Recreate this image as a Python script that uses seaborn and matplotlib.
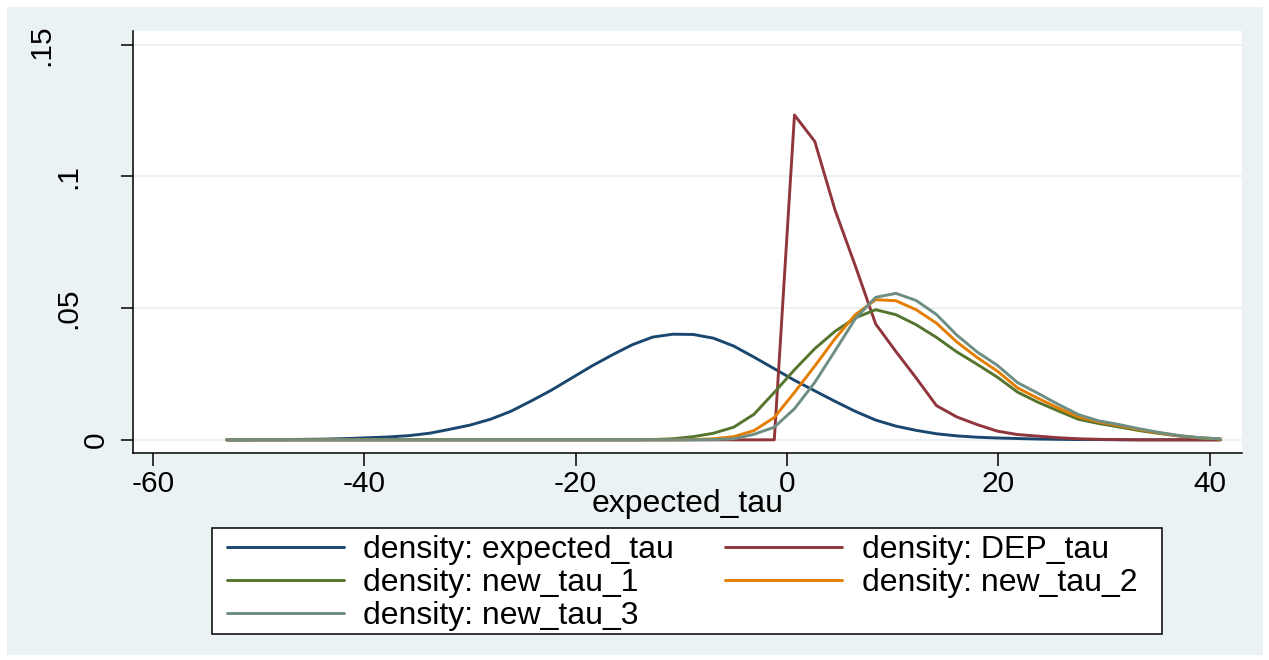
import matplotlib
matplotlib.use("Agg")
import matplotlib.pyplot as plt
import matplotlib.transforms as mtransforms
from matplotlib.patches import Rectangle
from matplotlib.lines import Line2D
import seaborn as sns
import pandas as pd

# ---------------- data ----------------
x_grid = [-53.00, -51.08, -49.16, -47.24, -45.33, -43.41, -41.49, -39.57, -37.65, -35.73,
          -33.82, -31.90, -29.98, -28.06, -26.14, -24.22, -22.31, -20.39, -18.47, -16.55,
          -14.63, -12.71, -10.80, -8.88, -6.96, -5.04, -3.12, -1.20, 0.71, 2.63,
          4.55, 6.47, 8.39, 10.31, 12.22, 14.14, 16.06, 17.98, 19.90, 21.82,
          23.73, 25.65, 27.57, 29.49, 31.41, 33.33, 35.24, 37.16, 39.08, 41.00]

expected_tau = [0.0000, 0.0000, 0.0001, 0.0001, 0.0002, 0.0003, 0.0005, 0.0008, 0.0011, 0.0016,
                0.0025, 0.0040, 0.0056, 0.0078, 0.0108, 0.0147, 0.0188, 0.0234, 0.0280, 0.0322,
                0.0361, 0.0390, 0.0401, 0.0400, 0.0386, 0.0356, 0.0314, 0.0270, 0.0226, 0.0186,
                0.0146, 0.0108, 0.0075, 0.0052, 0.0036, 0.0023, 0.0015, 0.0010, 0.0007, 0.0005,
                0.0003, 0.0002, 0.0001, 0.0001, 0.0000, 0.0000, 0.0000, 0.0000, 0.0000, 0.0000]

dep_tau = [0.0, 0.0, 0.0, 0.0, 0.0, 0.0, 0.0, 0.0, 0.0, 0.0,
           0.0, 0.0, 0.0, 0.0, 0.0, 0.0, 0.0, 0.0, 0.0, 0.0,
           0.0, 0.0, 0.0, 0.0, 0.0, 0.0, 0.0, 0.0, 0.1233, 0.1133,
           0.0872, 0.0660, 0.0440, 0.0335, 0.0235, 0.0130, 0.0087, 0.0058, 0.0033, 0.0020,
           0.0014, 0.0008, 0.0004, 0.0002, 0.0001, 0.0, 0.0, 0.0, 0.0, 0.0]

new_tau_1 = [0.0, 0.0, 0.0, 0.0, 0.0, 0.0, 0.0, 0.0, 0.0, 0.0,
             0.0, 0.0, 0.0, 0.0, 0.0, 0.0, 0.0, 0.0, 0.0, 0.0,
             0.0, 0.0001, 0.0004, 0.0012, 0.0025, 0.0048, 0.0097, 0.0180, 0.0266, 0.0346,
             0.0412, 0.0463, 0.0494, 0.0475, 0.0437, 0.0389, 0.0334, 0.0287, 0.0238, 0.0181,
             0.0143, 0.0110, 0.0078, 0.0062, 0.0049, 0.0035, 0.0024, 0.0014, 0.0007, 0.0003]

new_tau_2 = [0.0, 0.0, 0.0, 0.0, 0.0, 0.0, 0.0, 0.0, 0.0, 0.0,
             0.0, 0.0, 0.0, 0.0, 0.0, 0.0, 0.0, 0.0, 0.0, 0.0,
             0.0, 0.0, 0.0, 0.0001, 0.0004, 0.0012, 0.0035, 0.0085, 0.0180, 0.0280,
             0.0384, 0.0475, 0.0532, 0.0528, 0.0494, 0.0443, 0.0372, 0.0313, 0.0261, 0.0197,
             0.0158, 0.0121, 0.0087, 0.0068, 0.0054, 0.0039, 0.0026, 0.0015, 0.0008, 0.0003]

new_tau_3 = [0.0, 0.0, 0.0, 0.0, 0.0, 0.0, 0.0, 0.0, 0.0, 0.0,
             0.0, 0.0, 0.0, 0.0, 0.0, 0.0, 0.0, 0.0, 0.0, 0.0,
             0.0, 0.0, 0.0, 0.0, 0.0001, 0.0004, 0.0021, 0.0048, 0.0118, 0.0218,
             0.0338, 0.0460, 0.0541, 0.0556, 0.0529, 0.0476, 0.0398, 0.0334, 0.0283, 0.0217,
             0.0177, 0.0135, 0.0096, 0.0072, 0.0058, 0.0042, 0.0028, 0.0016, 0.0008, 0.0004]

series_names = ["density: expected_tau", "density: DEP_tau", "density: new_tau_1",
                "density: new_tau_2", "density: new_tau_3"]
series_values = [expected_tau, dep_tau, new_tau_1, new_tau_2, new_tau_3]
series_colors = ["#1A476F", "#90353B", "#55752F", "#E37E00", "#6E8E84"]

x_ticks = [-60, -40, -20, 0, 20, 40]
x_tick_labels = ["-60", "-40", "-20", "0", "20", "40"]
y_ticks = [0, 0.05, 0.10, 0.15]
y_tick_labels = ["0", ".05", ".1", ".15"]
x_title = "expected_tau"

# ---------------- build long table ----------------
rows = []
for name, vals in zip(series_names, series_values):
    for xv, yv in zip(x_grid, vals):
        rows.append({"x": xv, "density": yv, "series": name})
df = pd.DataFrame(rows)

# ---------------- figure ----------------
sns.set_theme(style="white")
plt.rcParams["font.family"] = ["Liberation Sans", "DejaVu Sans"]
plt.rcParams["axes.unicode_minus"] = False
plt.rcParams["text.color"] = "black"
plt.rcParams["xtick.color"] = "black"
plt.rcParams["ytick.color"] = "black"
plt.rcParams["axes.labelcolor"] = "black"

W, H = 1269, 660
fig = plt.figure(figsize=(W / 100, H / 100), dpi=100)
fig.patch.set_facecolor("white")

BG = "#EAF2F3"
fig.add_artist(Rectangle((7 / W, 5 / H), (1263 - 7) / W, (655 - 7) / H,
                         transform=fig.transFigure, facecolor=BG,
                         edgecolor="none", zorder=-10))

ax_l, ax_r, ax_t, ax_b = 133, 1242, 31, 453
ax = fig.add_axes([ax_l / W, (H - ax_b) / H, (ax_r - ax_l) / W, (ax_b - ax_t) / H])
ax.set_facecolor("white")

palette = dict(zip(series_names, series_colors))
sns.lineplot(data=df, x="x", y="density", hue="series", hue_order=series_names,
             palette=palette, estimator=None, sort=False, linewidth=2.1,
             legend=False, ax=ax)

ax.set_xlim(-61.87, 43.05)
ax.set_ylim(-0.0050, 0.1552)

# grid
for yt in y_ticks:
    ax.axhline(yt, color=BG, linewidth=1.5, zorder=0)

for side in ["top", "right"]:
    ax.spines[side].set_visible(False)
for side in ["left", "bottom"]:
    ax.spines[side].set_color("black")
    ax.spines[side].set_linewidth(1.1)

FS = 21.5
ax.set_xticks(x_ticks)
ax.set_xticklabels(x_tick_labels, fontsize=FS, color="black")
ax.set_yticks(y_ticks)
ax.set_yticklabels([])
ax.tick_params(axis="both", which="major", direction="out", length=9,
               width=1.1, color="black", labelcolor="black", left=True, bottom=True)
ax.tick_params(axis="x", pad=3)

# rotated y tick labels (staggered as in the reference)
label_x_px = [96, 68, 68, 41]
blend = mtransforms.blended_transform_factory(fig.transFigure, ax.transData)
for yt, lab, px in zip(y_ticks, y_tick_labels, label_x_px):
    ax.text(px / W, yt, lab, transform=blend, rotation=90, fontsize=FS,
            ha="center", va="center", color="black")

ax.set_xlabel(x_title, fontsize=23, color="black")
ax.xaxis.set_label_coords(0.5, (ax_b - 504) / (ax_b - ax_t))
ax.xaxis.label.set_va("center")
ax.set_ylabel("")

# legend box
lb_l, lb_r, lb_t, lb_b = 212, 1162, 528, 634
fig.add_artist(Rectangle((lb_l / W, (H - lb_b) / H), (lb_r - lb_l) / W, (lb_b - lb_t) / H,
                         transform=fig.transFigure, facecolor="white",
                         edgecolor="black", linewidth=1.1, zorder=1))
handles = [Line2D([], [], color=c, linewidth=2.1) for c in series_colors]
order = [0, 2, 4, 1, 3]
LFS = 23
leg = fig.legend([handles[i] for i in order], [series_names[i] for i in order],
                 ncol=2, loc="upper left", bbox_to_anchor=(227 / W, (H - 535) / H),
                 bbox_transform=fig.transFigure, frameon=False, fontsize=LFS,
                 handlelength=3.65, handletextpad=0.62, columnspacing=1.6,
                 labelspacing=0.09, borderpad=0, borderaxespad=0, labelcolor="black")
leg.set_zorder(2)

fig.savefig("out.png", dpi=100, facecolor=fig.get_facecolor())
